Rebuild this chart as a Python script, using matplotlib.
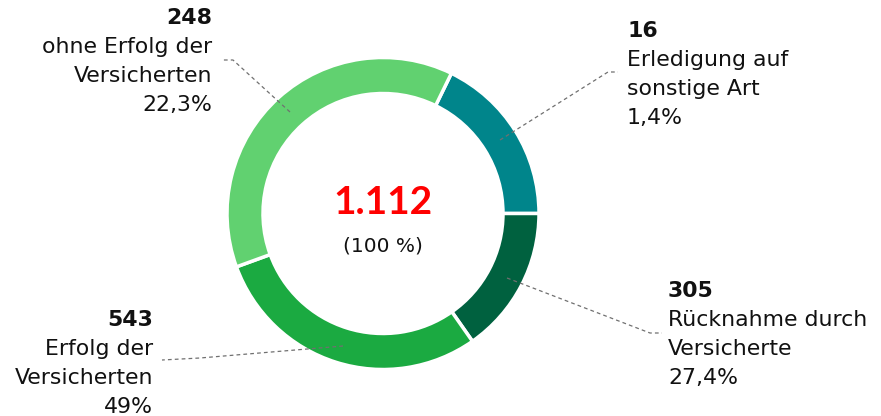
import matplotlib.pyplot as plt

# values shown in the labels
counts = ["248", "16", "305", "543"]
names = [["ohne Erfolg der", "Versicherten"],
         ["Erledigung auf", "sonstige Art"],
         ["Rücknahme durch", "Versicherte"],
         ["Erfolg der", "Versicherten"]]
percents = ["22,3%", "1,4%", "27,4%", "49%"]
total_label = "1.112"
total_pct = "(100 %)"

# arc sizes as drawn in the ring (degrees), clockwise from teal
arc_names = ["sonstige Art", "Rücknahme", "Erfolg", "ohne Erfolg"]
arc_sizes = [64, 55, 105, 136]
arc_colors = ["#00858B", "#00613F", "#1BAA41", "#61D170"]

plt.rcParams['font.family'] = ['DejaVu Sans']

W, H = 881, 416
fig = plt.figure(figsize=(W / 100, H / 100), dpi=100, facecolor='w')
ax = fig.add_axes([0, 0, 1, 1])

cx, cy = 383, H - 213.5
ax.pie(arc_sizes, colors=arc_colors, startangle=64, counterclock=False,
       radius=156, center=(cx, cy),
       wedgeprops=dict(width=36, edgecolor='white', linewidth=2.5))
ax.set_xlim(0, W)
ax.set_ylim(0, H)
ax.set_aspect('equal')
ax.axis('off')

ax.text(cx, H - 203, total_label, color='#FF0000', fontsize=28, fontweight='bold',
        family='Lato', ha='center', va='center')
ax.text(cx, H - 246, total_pct, color='#111111', fontsize=14.5, ha='center', va='center')

# leader lines (pixel coords, y from top)
leaders = [[(290, 112), (233, 60), (222, 60)],
           [(500, 140), (608, 72), (618, 72)],
           [(507, 278), (650, 333), (662, 333)],
           [(343, 346), (200, 358), (162, 360)]]
for pts in leaders:
    xs = [p[0] for p in pts]
    ys = [H - p[1] for p in pts]
    ax.plot(xs, ys, color='#707070', lw=0.9, ls=(0, (3, 2.5)))

# label blocks: x, y of first line, alignment
blocks = [(212, 18, 'right'), (627, 31, 'left'), (668, 291, 'left'), (153, 320, 'right')]
step = 29
for (x, y0, ha), c, nm, p in zip(blocks, counts, names, percents):
    lines = [c] + nm + [p]
    for i, s in enumerate(lines):
        ax.text(x, H - (y0 + i * step), s, fontsize=15.8, ha=ha, va='center',
                color='#111111', fontweight='bold' if i == 0 else 'normal')

plt.savefig("out.png", dpi=100, facecolor='w')
